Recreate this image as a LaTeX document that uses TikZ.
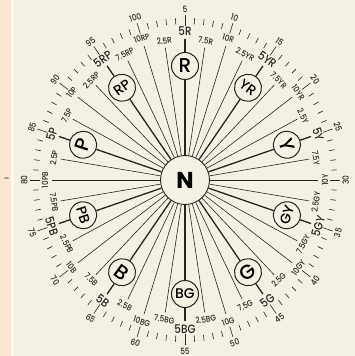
\documentclass[tikz,border=0pt]{standalone}
\usepackage{fontspec}
\setmainfont{Poppins}
\newfontfamily\medfont{Poppins Medium}
\definecolor{paper}{RGB}{244,241,228}
\definecolor{peach}{RGB}{251,232,210}
\definecolor{ink}{RGB}{38,36,34}

% rotation of a label at angle #1: baseline along the circle, never upside down
\newcommand{\setrot}[1]{%
  \pgfmathsetmacro{\sn}{sin(#1)}%
  \pgfmathsetmacro{\labrot}{abs(\sn)<0.01 ? 90 : (\sn>0 ? #1-90 : #1+90)}%
}
% slightly condensed lettering
\newcommand{\nar}[1]{\scalebox{0.86}[1]{#1}}

\begin{document}
\begin{tikzpicture}[x=0.94pt, y=1pt,
  spoke/.style={ink, line width=0.6pt},
  hueline/.style={ink, line width=1.3pt},
  tick/.style={ink, line width=0.6pt},
  huecirc/.style={circle, draw=ink, line width=1pt, fill=paper,
    minimum size=27pt, inner sep=0pt},
  lab/.style={ink, inner sep=0pt, font=\medfont\fontsize{8.4}{9}\selectfont},
  biglab/.style={ink, inner sep=0pt, font=\medfont\fontsize{12}{13}\selectfont},
  num/.style={ink, inner sep=0pt, font=\medfont\fontsize{8.6}{9}\selectfont}]

  % --- page ---
  \useasboundingbox (-185pt,-176pt) rectangle (170pt,180pt);
  \fill[paper] (-185pt,-176pt) rectangle (170pt,180pt);
  \fill[peach] (-185pt,-176pt) rectangle (-174pt,180pt);
  \fill[white!60!paper] (-174pt,-176pt) rectangle (-171pt,180pt);
  \node[ink, inner sep=0pt, font=\fontsize{3.5}{4}\selectfont] (scrap) at (-178pt,1pt) {ac.};

  % --- outer scale 1..100 ---
  \foreach \n in {1,...,100}{
    \pgfmathsetmacro{\t}{108-3.6*\n}
    \pgfmathtruncatemacro{\m}{mod(\n,5)}
    \ifnum\m=0
      \draw[tick] (\t:154) -- (\t:165);
    \else
      \draw[tick] (\t:156) -- (\t:162);
    \fi
  }
  \foreach \n in {5,10,...,100}{
    \pgfmathsetmacro{\t}{108-3.6*\n}
    \setrot{\t}
    \node[num, rotate=\labrot] (num\n) at (\t:171) {\nar{\n}};
  }

  % --- neutral centre ---
  \node[circle, draw=ink, line width=0.9pt, fill=paper, minimum size=49pt,
    inner sep=0pt, font=\fontsize{23}{23}\selectfont\bfseries] (N) at (0,0) {N};

  % --- ten hues, four steps each ---
  \foreach \h/\fs [count=\i from 0] in {R/20,YR/14,Y/20,GY/14,G/20,BG/14,B/20,PB/14,P/20,RP/14}{
    \pgfmathsetmacro{\a}{90-36*\i}
    \setrot{\a}
    \node[huecirc, font=\medfont\fontsize{\fs}{\fs}\selectfont, rotate=\labrot] (h\h) at (\a:114) {\h};
    \coordinate (t\h) at (\a:141);
    \draw[hueline] (N) -- (h\h);
    \draw[hueline] (h\h) -- (t\h);
    \node[biglab, rotate=\labrot] (lb\h) at (\a:149) {\nar{5\h}};
    \foreach \st/\d/\re/\rl/\k in {2.5/9/134/141/a, 7.5/-9/134/141/b, 10/-18/141/149/c}{
      \pgfmathsetmacro{\b}{\a+\d}
      \setrot{\b}
      \coordinate (e\k\h) at (\b:\re);
      \draw[spoke] (N) -- (e\k\h);
      \node[lab, rotate=\labrot] (l\k\h) at (\b:\rl) {\nar{\st\h}};
    }
  }
\end{tikzpicture}
\end{document}
